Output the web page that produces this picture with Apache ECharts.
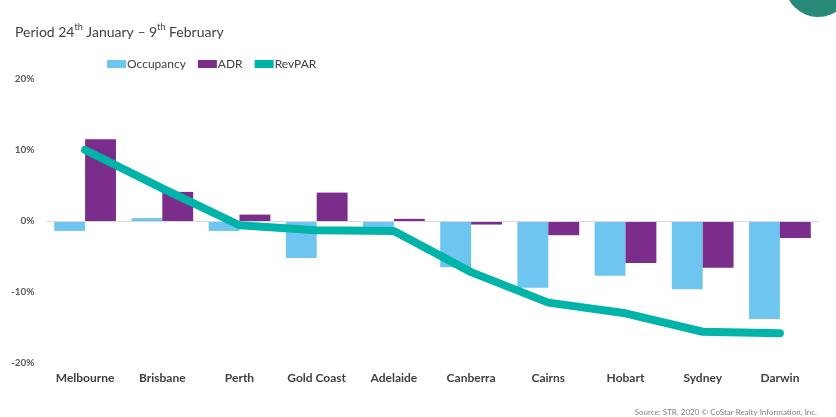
<!DOCTYPE html>
<html>
<head>
<meta charset="utf-8">
<script src="https://cdn.jsdelivr.net/npm/echarts@6/dist/echarts.min.js"></script>
<style>html,body{margin:0;padding:0;background:#fff;}#c{width:836px;height:417px;}</style>
</head>
<body>
<div id="c"></div>
<script>
const categories = ['Melbourne','Brisbane','Perth','Gold Coast','Adelaide','Canberra','Cairns','Hobart','Sydney','Darwin'];
const occupancy = [-1.4, 0.4, -1.4, -5.2, -1.6, -6.5, -9.4, -7.7, -9.6, -13.8];
const adr = [11.5, 4.1, 0.9, 4.0, 0.3, -0.5, -2.0, -5.9, -6.6, -2.4];
const revpar = [10.0, 4.6, -0.6, -1.3, -1.4, -7.2, -11.5, -13.0, -15.6, -15.8];
const yTicks = { min: -20, max: 20, interval: 10 };

const chart = echarts.init(document.getElementById('c'));
const FONT = 'Lato';
chart.setOption({
  backgroundColor: '#fff',
  animation: false,
  title: [{
    text: '{m|Period 24}{s|th}{m| January – 9}{s|th}{m| February}',
    left: 10, top: 16,
    textStyle: {
      fontWeight: 'normal',
      rich: {
        m: { fontFamily: FONT, fontSize: 14, fontWeight: 'normal', color: '#404040', lineHeight: 18, verticalAlign: 'bottom' },
        s: { fontFamily: FONT, fontSize: 9, fontWeight: 'normal', color: '#404040', lineHeight: 18, verticalAlign: 'top', padding: [2, 0, 4, 0] }
      }
    }
  }, {
    text: 'Source: STR. 2020 © CoStar Realty Information, Inc.',
    right: 14, top: 403,
    textStyle: { fontFamily: FONT, fontSize: 8, color: '#808080', fontWeight: 'normal' }
  }],
  graphic: [{
    type: 'circle', shape: { cx: 818, cy: -16, r: 33 }, style: { fill: '#2a8a78' }
  }],
  legend: {
    left: 102, top: 53,
    itemWidth: 19, itemHeight: 8, itemGap: 12,
    icon: 'rect',
    textStyle: { fontFamily: FONT, fontSize: 12, color: '#404040', padding: [0, 0, 0, -4] },
    data: ['Occupancy', 'ADR', 'RevPAR']
  },
  grid: { left: 46.5, right: 17.5, top: 79, bottom: 54 },
  xAxis: {
    type: 'category', data: categories,
    axisLine: { show: false }, axisTick: { show: false },
    axisLabel: { fontFamily: FONT, fontSize: 12, fontWeight: 'bold', color: '#404040', margin: 9 }
  },
  yAxis: {
    type: 'value', min: yTicks.min, max: yTicks.max, interval: yTicks.interval,
    axisLine: { show: false }, axisTick: { show: false }, splitLine: { show: false },
    axisLabel: { formatter: '{value}%', fontFamily: FONT, fontSize: 10, fontWeight: 'bold', color: '#595959', margin: 12 }
  },
  series: [{
    name: 'Occupancy', type: 'bar', data: occupancy, barGap: '0%', barCategoryGap: '20%',
    itemStyle: { color: '#6ec6f0' },
    markLine: {
      silent: true, symbol: 'none', label: { show: false },
      lineStyle: { color: '#d9d9d9', type: 'solid', width: 1 },
      data: [{ yAxis: 0 }]
    }
  }, {
    name: 'ADR', type: 'bar', data: adr,
    itemStyle: { color: '#7b2d8b' }
  }, {
    name: 'RevPAR', type: 'line', data: revpar, symbol: 'none', z: 5,
    lineStyle: { color: '#00b4a9', width: 8, cap: 'round', join: 'round' },
    itemStyle: { color: '#00b4a9' }
  }]
});
</script>
</body>
</html>
